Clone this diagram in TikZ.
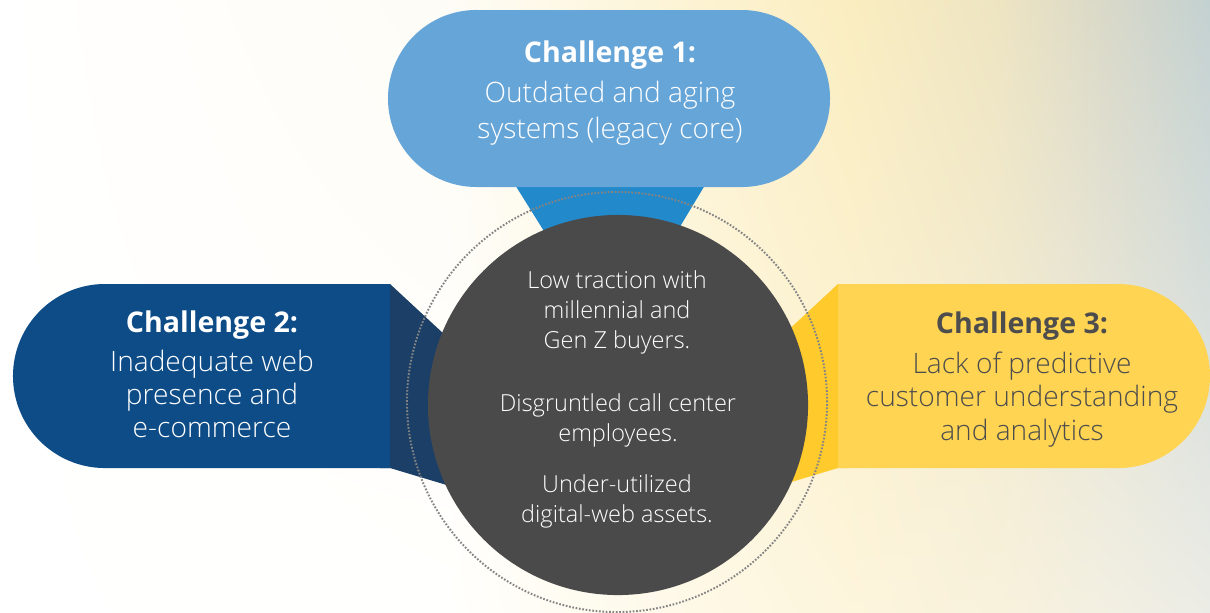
\documentclass[tikz,border=0pt]{standalone}
\usepackage{fontspec}
\setmainfont{Open Sans}[UprightFont=* Light, BoldFont=* Bold]
\usetikzlibrary{shadings}

% background: top row and bottom row of the wash
\definecolor{tA}{RGB}{254,252,246}
\definecolor{tB}{RGB}{253,243,210}
\definecolor{tC}{RGB}{250,237,192}
\definecolor{tD}{RGB}{237,228,194}
\definecolor{tE}{RGB}{218,217,200}
\definecolor{tF}{RGB}{195,209,209}
\definecolor{bA}{RGB}{255,255,253}
\definecolor{bB}{RGB}{254,248,230}
\definecolor{bC}{RGB}{253,245,220}
\definecolor{bD}{RGB}{248,241,220}
\definecolor{bE}{RGB}{243,240,226}
\definecolor{bF}{RGB}{236,236,230}
% shapes
\definecolor{oneLight}{RGB}{102,165,216}
\definecolor{oneDark}{RGB}{34,137,203}
\definecolor{twoLight}{RGB}{13,76,135}
\definecolor{twoDark}{RGB}{27,63,102}
\definecolor{threeLight}{RGB}{255,212,82}
\definecolor{threeDark}{RGB}{255,202,44}
\definecolor{hubGrey}{RGB}{74,74,74}
\definecolor{inkGrey}{RGB}{77,77,77}
\definecolor{ringGrey}{RGB}{132,132,132}

\newcommand{\chead}[1]{{\fontsize{20.3}{24}\selectfont\bfseries #1}}

\begin{document}
\begin{tikzpicture}[x=0.025cm, y=-0.025cm,
    chtext/.style={align=center, anchor=base},
    hubtext/.style={align=center, anchor=base, text=white, font=\fontsize{16.7}{21}\selectfont},
    ringline/.style={draw=ringGrey, line width=1.4pt, dash pattern=on 1.2pt off 1.2pt}]
  \useasboundingbox (0,0) rectangle (1210,612);

  % background wash
  \foreach \xa/\xb/\ul/\ur/\ll/\lr in {0/450/white/tA/white/bA, 450/700/tA/tB/bA/bB,
      700/850/tB/tC/bB/bC, 850/1000/tC/tD/bC/bD, 1000/1100/tD/tE/bD/bE, 1100/1210/tE/tF/bE/bF}
    \shade[upper left=\ul, upper right=\ur, lower left=\ll, lower right=\lr]
      (\xa-0.5,0) rectangle (\xb+0.5,612);

  % connectors behind the hub
  \fill[oneDark] (512,180) -- (708,180) -- (660,260) -- (562,260) -- cycle;
  \fill[twoDark] (380,284) -- (390,284) -- (500,386) -- (500,501) -- (390,468) -- (380,468) -- cycle;
  \fill[threeDark] (848,284) -- (838,284) -- (728,386) -- (728,501) -- (838,468) -- (848,468) -- cycle;

  % dotted ring
  \draw[ringline] (617,402) circle[radius=5.25cm];

  % the three pills
  \fill[oneLight] (476.5,10) -- (741.5,10) arc[start angle=90, end angle=-90, radius=2.2125cm]
    -- (476.5,187) arc[start angle=270, end angle=90, radius=2.2125cm] -- cycle;
  \fill[twoLight] (390,284) -- (105,284) arc[start angle=90, end angle=270, radius=2.3cm]
    -- (390,468) -- cycle;
  \fill[threeLight] (838,284) -- (1118,284) arc[start angle=90, end angle=-90, radius=2.3cm]
    -- (838,468) -- cycle;

  % hub
  \node[circle, fill=hubGrey, minimum size=9.5cm, inner sep=0pt] (hub) at (618,405) {};

  % texts (anchored on the last line)
  \node[chtext, text=white, font=\fontsize{20}{24.9}\selectfont] (c1) at (610,138)
    {\chead{Challenge 1:}\\[3.6pt] Outdated and aging\\ systems (legacy core)};
  \node[chtext, text=white, font=\fontsize{20}{23.2}\selectfont] (c2) at (212,437)
    {\chead{Challenge 2:}\\[4.6pt] Inadequate web\\ presence and\\ e-commerce};
  \node[chtext, text=inkGrey, font=\fontsize{20}{23.8}\selectfont] (c3) at (1022,440)
    {\chead{Challenge 3:}\\[4.6pt] Lack of predictive\\ customer understanding\\ and analytics};

  \node[hubtext] (p1) at (617,348) {Low traction with\\ millennial and\\ Gen Z buyers.};
  \node[hubtext] (p2) at (618,441) {Disgruntled call center\\ employees.};
  \node[hubtext] (p3) at (617,522) {Under-utilized\\ digital-web assets.};
\end{tikzpicture}
\end{document}
